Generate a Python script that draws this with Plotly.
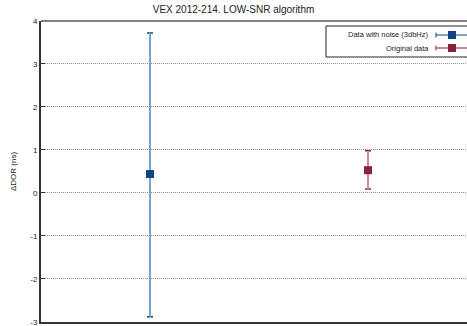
import plotly.graph_objects as go

# ΔDOR estimates (ns) with asymmetric error limits
series_names = ["Data with noise (3dbHz)", "Original data"]
x_pos = [1, 2]
values = [0.44, 0.53]
err_plus = [3.28, 0.45]
err_minus = [3.32, 0.44]
marker_colors = ["#0d4588", "#8a2035"]
bar_colors = ["#7aa3cc", "#c98a98"]
y_ticks = [-3, -2, -1, 0, 1, 2, 3, 4]
y_tick_text = ["-3", "-2", "-1", "0", "1", "2", "3", "4"]

fig = go.Figure()

for i, name in enumerate(series_names):
    # darker caps underneath
    fig.add_trace(go.Scatter(
        x=[x_pos[i]], y=[values[i]], mode="markers", showlegend=False,
        marker=dict(symbol="square", size=0.1, color=marker_colors[i]),
        error_y=dict(type="data", symmetric=False, array=[err_plus[i]],
                     arrayminus=[err_minus[i]], color=marker_colors[i],
                     thickness=1.5, width=3),
        hoverinfo="skip"))
    # lighter stem plus square marker on top
    fig.add_trace(go.Scatter(
        x=[x_pos[i]], y=[values[i]], mode="markers", name=name, showlegend=False,
        marker=dict(symbol="square", size=8, color=marker_colors[i]),
        error_y=dict(type="data", symmetric=False, array=[err_plus[i]],
                     arrayminus=[err_minus[i]], color=bar_colors[i],
                     thickness=2, width=0)))

# legend box: text on the left, sample on the right
legend_y = [35, 48]
shapes = [dict(type="rect", xref="paper", yref="paper",
               x0=(326 - 41) / 426, x1=1.01, y0=1 - (57 - 21) / 301, y1=1 - (26 - 21) / 301,
               line=dict(color="#222222", width=1), fillcolor="white", layer="above")]
annotations = []
for i, name in enumerate(series_names):
    yp = 1 - (legend_y[i] - 21) / 301
    annotations.append(dict(text=name, xref="paper", yref="paper", x=(431 - 41) / 426, y=yp,
                            xanchor="right", yanchor="middle", showarrow=False,
                            font=dict(size=7.5, color="#222222", family="Liberation Sans")))
    shapes.append(dict(type="line", xref="paper", yref="paper",
                       x0=(436 - 41) / 426, x1=1.0, y0=yp, y1=yp,
                       line=dict(color=marker_colors[i], width=1), layer="above"))
    shapes.append(dict(type="line", xref="paper", yref="paper",
                       x0=(436 - 41) / 426, x1=(436 - 41) / 426, y0=yp - 0.008, y1=yp + 0.008,
                       line=dict(color=marker_colors[i], width=1), layer="above"))
    shapes.append(dict(type="rect", xref="paper", yref="paper",
                       x0=(448 - 41) / 426, x1=(456 - 41) / 426, y0=yp - 4 / 301, y1=yp + 4 / 301,
                       line=dict(width=0), fillcolor=marker_colors[i], layer="above"))

# solid top border
shapes.append(dict(type="line", xref="paper", yref="paper", x0=0, x1=1, y0=1, y1=1,
                   line=dict(color="black", width=1)))

fig.update_layout(
    width=467, height=326,
    margin=dict(l=41, r=0, t=21, b=4),
    paper_bgcolor="white", plot_bgcolor="white",
    title=dict(text="VEX 2012-214. LOW-SNR algorithm", x=0.5, xanchor="center",
               y=1 - 9 / 326, yanchor="middle",
               font=dict(size=10, color="#222222", family="Liberation Sans")),
    xaxis=dict(range=[0.5, 2.454], showticklabels=False, ticks="", showgrid=False,
               zeroline=False, showline=True, linecolor="#333333", linewidth=2),
    yaxis=dict(range=[-3.002, 4], tickvals=y_ticks, ticktext=y_tick_text,
               ticks="inside", ticklen=4,
               tickcolor="#333333", showgrid=True, gridcolor="#888888",
               griddash="1px,1px", gridwidth=1, zeroline=False, showline=True,
               linecolor="#333333", linewidth=2, ticklabeloverflow="allow",
               tickfont=dict(size=8, color="#222222", family="Liberation Sans"),
               title=dict(text="ΔDOR (ns)", standoff=12,
                          font=dict(size=8, color="#222222", family="Liberation Sans"))),
    shapes=shapes, annotations=annotations,
)

fig.write_html("out.html")
